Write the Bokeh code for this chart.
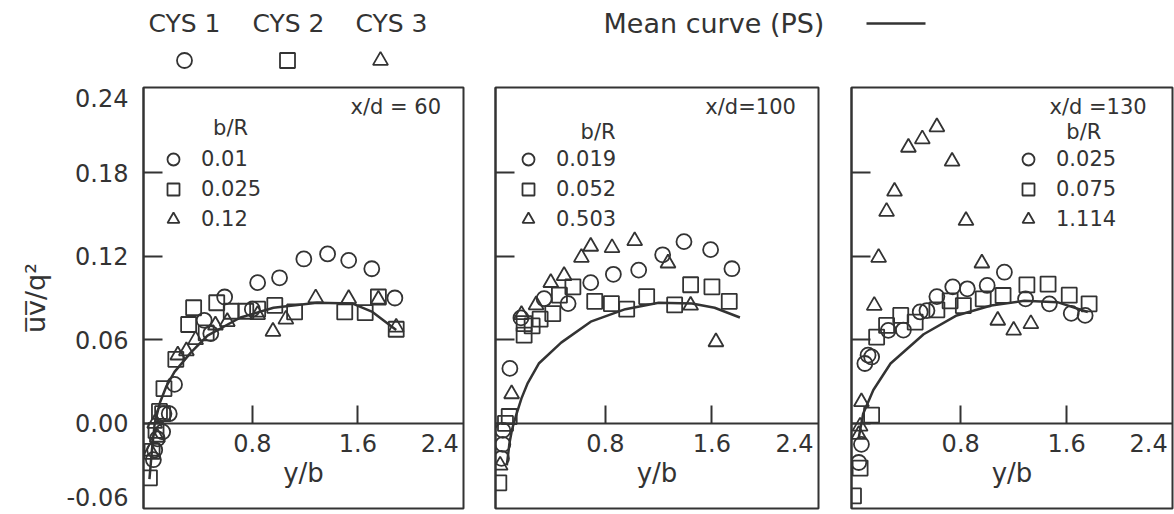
from bokeh.plotting import figure
from bokeh.models import Range1d, LinearAxis, FixedTicker, Label, Legend, LegendItem
from bokeh.layouts import column, row
from bokeh.embed import file_html
from bokeh.resources import INLINE
from bokeh.core.properties import value

# ---------------- data ----------------
series_names = ["CYS 1", "CYS 2", "CYS 3"]
series_markers = ["circle", "square", "triangle"]
mean_curve_name = "Mean  curve (PS)"

y_ticks = [0.18, 0.12, 0.06, 0.0]
# label positions: the end labels 0.24 and -0.06 sit just inside the frame in the original
y_label_ticks = [0.2338, 0.18, 0.12, 0.06, 0.0, -0.0531]
y_tick_labels = ["0.24", "0.18", "0.12", "0.06", "0.00", "-0.06"]
x_ticks = [0.8, 1.6]
x_tick_labels = ["0.8", "1.6"]
x_last_label = "2.4"

panel_titles = ["x/d = 60", "x/d=100", "x/d =130"]
panel_bR = [["0.01", "0.025", "0.12"], ["0.019", "0.052", "0.503"], ["0.025", "0.075", "1.114"]]

# x/d = 60
p1_c_x = [0.05, 0.06, 0.08, 0.12, 0.13, 0.17, 0.21, 0.435, 0.485, 0.59, 0.80, 0.84, 1.006, 1.19, 1.37, 1.53, 1.705, 1.88]
p1_c_y = [-0.026, -0.019, -0.011, -0.006, 0.007, 0.007, 0.028, 0.074, 0.0645, 0.0907, 0.082, 0.101, 0.1045, 0.118, 0.1216, 0.117, 0.111, 0.090]
p1_s_x = [0.02, 0.04, 0.07, 0.096, 0.12, 0.13, 0.22, 0.317, 0.355, 0.45, 0.53, 0.64, 0.75, 0.84, 0.97, 1.12, 1.50, 1.655, 1.755, 1.89]
p1_s_y = [-0.039, -0.02, -0.005, 0.0086, 0.007, 0.025, 0.046, 0.071, 0.083, 0.065, 0.0866, 0.0805, 0.0805, 0.082, 0.0847, 0.080, 0.080, 0.0795, 0.0907, 0.0676]
p1_t_x = [0.03, 0.06, 0.08, 0.235, 0.30, 0.37, 0.52, 0.61, 0.84, 0.956, 1.054, 1.28, 1.53, 1.755, 1.89]
p1_t_y = [-0.02, 0.0, -0.01, 0.049, 0.052, 0.060, 0.0705, 0.073, 0.078, 0.066, 0.0747, 0.090, 0.0895, 0.089, 0.069]
p1_m_x = [0.02, 0.04, 0.06, 0.10, 0.15, 0.21, 0.335, 0.46, 0.71, 0.96, 1.29, 1.56, 1.71, 1.89]
p1_m_y = [-0.04, -0.018, 0.0, 0.015, 0.027, 0.037, 0.051, 0.063, 0.076, 0.083, 0.0866, 0.086, 0.080, 0.067]

# x/d = 100
p2_c_x = [0.02, 0.03, 0.03, 0.083, 0.166, 0.34, 0.52, 0.69, 0.86, 1.05, 1.23, 1.39, 1.59, 1.75]
p2_c_y = [-0.025, -0.015, -0.005, 0.0395, 0.0757, 0.0895, 0.086, 0.101, 0.107, 0.110, 0.121, 0.1304, 0.1247, 0.111]
p2_s_x = [0.0, 0.05, 0.078, 0.19, 0.19, 0.25, 0.31, 0.405, 0.455, 0.556, 0.72, 0.845, 0.96, 1.11, 1.32, 1.44, 1.60, 1.73]
p2_s_y = [-0.0426, 0.0, 0.005, 0.0716, 0.0633, 0.070, 0.0748, 0.0788, 0.092, 0.098, 0.0876, 0.086, 0.082, 0.091, 0.085, 0.0995, 0.098, 0.0876]
p2_t_x = [0.01, 0.096, 0.17, 0.28, 0.39, 0.49, 0.62, 0.69, 0.85, 1.02, 1.27, 1.44, 1.63]
p2_t_y = [-0.03, 0.0212, 0.078, 0.085, 0.101, 0.106, 0.119, 0.127, 0.126, 0.131, 0.115, 0.0847, 0.0585]
p2_m_x = [0.06, 0.08, 0.10, 0.13, 0.17, 0.217, 0.30, 0.468, 0.69, 0.95, 1.20, 1.45, 1.62, 1.81]
p2_m_y = [-0.03, -0.014, -0.004, 0.006, 0.018, 0.029, 0.043, 0.058, 0.073, 0.082, 0.0866, 0.086, 0.083, 0.076]

# x/d = 130
p3_c_x = [0.03, 0.05, 0.076, 0.10, 0.127, 0.253, 0.367, 0.494, 0.545, 0.62, 0.74, 0.85, 1.0, 1.13, 1.29, 1.47, 1.635, 1.74]
p3_c_y = [-0.028, -0.015, 0.043, 0.049, 0.0477, 0.0668, 0.067, 0.080, 0.081, 0.091, 0.098, 0.0966, 0.099, 0.1085, 0.0894, 0.0858, 0.079, 0.0775]
p3_s_x = [-0.01, 0.04, 0.127, 0.165, 0.24, 0.347, 0.456, 0.62, 0.72, 0.82, 0.97, 1.12, 1.30, 1.46, 1.62, 1.77]
p3_s_y = [-0.052, -0.032, 0.006, 0.062, 0.0703, 0.0775, 0.0727, 0.0815, 0.088, 0.0846, 0.0894, 0.0918, 0.0994, 0.100, 0.092, 0.0858]
p3_t_x = [0.03, 0.04, 0.05, 0.147, 0.18, 0.24, 0.30, 0.405, 0.51, 0.62, 0.735, 0.84, 0.96, 1.08, 1.20, 1.33]
p3_t_y = [-0.008, -0.002, 0.0155, 0.0846, 0.119, 0.152, 0.1665, 0.198, 0.204, 0.2127, 0.188, 0.1455, 0.115, 0.0739, 0.0668, 0.0715]
p3_m_x = [0.03, 0.063, 0.14, 0.27, 0.52, 0.77, 1.03, 1.28, 1.53, 1.76]
p3_m_y = [-0.01, 0.007, 0.024, 0.043, 0.064, 0.0775, 0.0846, 0.088, 0.087, 0.080]

panels = [
    dict(c=(p1_c_x, p1_c_y), s=(p1_s_x, p1_s_y), t=(p1_t_x, p1_t_y), m=(p1_m_x, p1_m_y)),
    dict(c=(p2_c_x, p2_c_y), s=(p2_s_x, p2_s_y), t=(p2_t_x, p2_t_y), m=(p2_m_x, p2_m_y)),
    dict(c=(p3_c_x, p3_c_y), s=(p3_s_x, p3_s_y), t=(p3_t_x, p3_t_y), m=(p3_m_x, p3_m_y)),
]

# ---------------- style / layout ----------------
INK = "#333333"
FONT = "DejaVu Sans"
X_RANGE = (-0.025, 2.40)
Y_RANGE = (-0.061, 0.241)
HEADER_H = 85
PANEL_H = 429
MARK = 15
MARK_LW = 1.8
# (figure width, left border, right border)
panel_boxes = [(479, 143, 16), (356, 16, 17), (339, 16, 2)]
legend_vx = [12, 15, 159]
title_pos = [(2.23, 0.2267), (2.23, 0.2267), (2.205, 0.2267)]
bR_pos = [(0.635, 0.2116), (0.745, 0.209), (1.73, 0.209)]


def style_axis(ax):
    ax.major_tick_out = 0
    ax.minor_tick_line_color = None
    ax.major_tick_line_width = 2
    ax.major_tick_line_color = INK
    ax.axis_line_color = INK
    ax.axis_line_width = 2
    ax.major_label_text_font = FONT
    ax.major_label_text_font_size = "24px"
    ax.major_label_text_color = INK


def make_panel(i):
    w, lb, rb = panel_boxes[i]
    d = panels[i]
    p = figure(width=w, height=PANEL_H, x_range=Range1d(*X_RANGE), y_range=Range1d(*Y_RANGE),
               output_backend="svg", toolbar_location=None,
               x_axis_location=None, y_axis_location="left",
               min_border_left=lb, min_border_right=rb, min_border_top=2, min_border_bottom=6)
    p.grid.visible = False
    p.outline_line_color = INK
    p.outline_line_width = 2
    p.background_fill_color = "white"
    p.border_fill_color = "white"

    # inner axis: only the inward tick marks
    ya = p.yaxis[0]
    ya.ticker = FixedTicker(ticks=y_ticks)
    style_axis(ya)
    ya.major_tick_in = 19
    ya.major_label_text_font_size = "0px"
    ya.major_label_text_color = None
    ya.major_label_standoff = 0

    if i == 0:
        # outer axis: the tick labels and the axis title
        yl = LinearAxis(ticker=FixedTicker(ticks=y_label_ticks))
        style_axis(yl)
        yl.major_label_overrides = {t: l for t, l in zip(y_label_ticks, y_tick_labels)}
        yl.major_tick_in = 0
        yl.major_tick_line_color = None
        yl.axis_line_color = None
        yl.major_label_standoff = 15
        yl.axis_label = "u\u0305v\u0305/q\u00b2"
        yl.axis_label_text_font = FONT
        yl.axis_label_text_font_size = "27px"
        yl.axis_label_text_font_style = "normal"
        yl.axis_label_text_color = INK
        yl.axis_label_standoff = 12
        p.add_layout(yl, "left")

    xa = LinearAxis(fixed_location=0, ticker=FixedTicker(ticks=x_ticks))
    style_axis(xa)
    xa.major_label_overrides = {t: l for t, l in zip(x_ticks, x_tick_labels)}
    xa.major_tick_in = 18
    xa.major_label_standoff = 11
    xa.axis_label = "y/b"
    xa.axis_label_text_font = FONT
    xa.axis_label_text_font_size = "26px"
    xa.axis_label_text_font_style = "normal"
    xa.axis_label_text_color = INK
    xa.axis_label_standoff = 2
    p.add_layout(xa, "below")
    p.add_layout(Label(x=2.22, y=0, y_offset=-11, text=x_last_label, text_align="center",
                       text_baseline="top", text_font=FONT, text_font_size="24px", text_color=INK))

    p.line(d["m"][0], d["m"][1], line_width=2.5, line_color=INK)
    rends = []
    for key, mk in zip(["c", "s", "t"], series_markers):
        r = p.scatter(d[key][0], d[key][1], marker=mk, size=MARK, line_color=INK,
                      line_width=MARK_LW, fill_color=None)
        rends.append(r)

    leg = Legend(items=[LegendItem(label=lab, renderers=[r]) for lab, r in zip(panel_bR[i], rends)],
                 location=(legend_vx[i], 274), glyph_width=36, glyph_height=30, label_height=30,
                 spacing=0, padding=0, margin=0, label_standoff=10, border_line_color=None,
                 background_fill_alpha=0, label_text_font=FONT, label_text_font_size="21px",
                 label_text_color=INK)
    p.add_layout(leg)

    tx, ty = title_pos[i]
    p.add_layout(Label(x=tx, y=ty, text=panel_titles[i], text_align="right", text_baseline="middle",
                       text_font=FONT, text_font_size="21px", text_color=INK))
    bx, by = bR_pos[i]
    p.add_layout(Label(x=bx, y=by, text="b/R", text_align="center", text_baseline="middle",
                       text_font=FONT, text_font_size="21px", text_color=INK))
    return p


# header with the series key
header = figure(width=1174, height=HEADER_H, x_range=Range1d(0, 1174), y_range=Range1d(HEADER_H, 0),
                output_backend="svg", toolbar_location=None, x_axis_location=None,
                y_axis_location=None, min_border=0)
header.grid.visible = False
header.outline_line_color = None
header.text(x=[184, 288, 391], y=[23, 23, 23], text=series_names, text_font=value(FONT),
            text_font_size="25px", text_align="center", text_baseline="middle", text_color=INK)
header.scatter(x=[184, 287, 380], y=[60, 60, 60], marker=series_markers, size=MARK,
               line_color=INK, line_width=MARK_LW, fill_color=None)
header.text(x=[603], y=[23], text=[mean_curve_name], text_font=value(FONT), text_font_size="27px",
            text_align="left", text_baseline="middle", text_color=INK)
header.line(x=[866, 925], y=[23, 23], line_width=2.5, line_color=INK)

p1, p2, p3 = make_panel(0), make_panel(1), make_panel(2)
layout = column(header, row(p1, p2, p3, spacing=0), spacing=0)

open("out.html", "w").write(file_html(layout, INLINE))
